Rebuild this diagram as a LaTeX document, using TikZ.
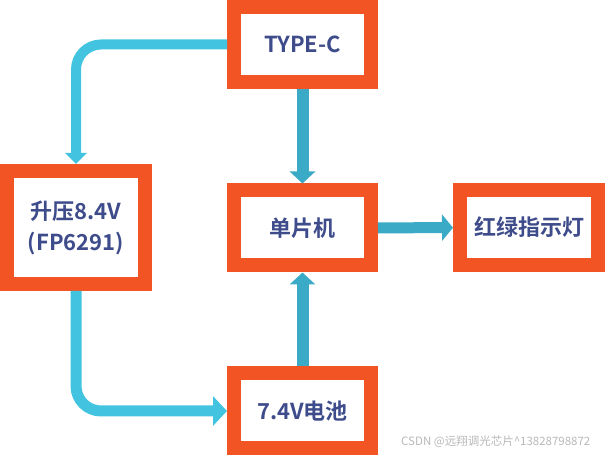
\documentclass[tikz,border=0pt]{standalone}
\usepackage{fontspec}
\setmainfont{Noto Sans CJK SC}[BoldFont={Noto Sans CJK SC Bold}]
\usepackage{tikz}
\usetikzlibrary{positioning,arrows.meta}

\definecolor{boxorange}{HTML}{F25424}
\definecolor{txtblue}{HTML}{3E4C8B}
\definecolor{tealarrow}{HTML}{3AAAC6}
\definecolor{cyanarrow}{HTML}{42C4E1}

\begin{document}
\begin{tikzpicture}[
  x=1pt,y=1pt,
  block/.style={rectangle,draw=boxorange,line width=14pt,fill=white,align=center,
    minimum width=137pt,minimum height=75pt,inner sep=0pt,text=txtblue,
    font=\bfseries\fontsize{22}{31}\selectfont},
  mainflow/.style={tealarrow,line width=12pt},
  sideflow/.style={cyanarrow,line width=10pt,rounded corners=25pt},
  wmark/.style={font=\fontsize{11.5}{13}\selectfont,text=black!28,inner sep=0pt},
]
\useasboundingbox (0,0) rectangle (606,455);

% === Blocks ===
\node[block] (typec) at (302.5,410.5) {TYPE-C};
\node[block,minimum width=138pt,minimum height=113pt] (boost) at (76,227.5) {升压8.4V\\(FP6291)};
\node[block] (mcu) at (302.5,227) {单片机};
\node[block,minimum width=138pt] (led) at (529,227.5) {红绿指示灯};
\node[block] (bat) at (302.5,44) {7.4V电池};

% === Main flow (teal) ===
\draw[mainflow,-{Triangle[width=25pt,length=12pt]}] (typec) -- (mcu);
\draw[mainflow,-{Triangle[width=25pt,length=12pt]}] (bat) -- (mcu);
\draw[mainflow,line width=11pt,-{Triangle[width=26pt,length=11pt]}] (mcu) -- (led);

% === Charging loop (cyan) ===
\draw[sideflow,-{Triangle[width=21pt,length=11pt]}] (typec.west) -| (boost.north);
\draw[sideflow,line width=11pt,-{Triangle[width=29pt,length=14pt]}] (boost.south) |- (bat.west);

% === Watermark ===
\node[wmark,anchor=west] (wm) at (401,13) {CSDN @远翔调光芯片\textasciicircum 13828798872};

\end{tikzpicture}
\end{document}
